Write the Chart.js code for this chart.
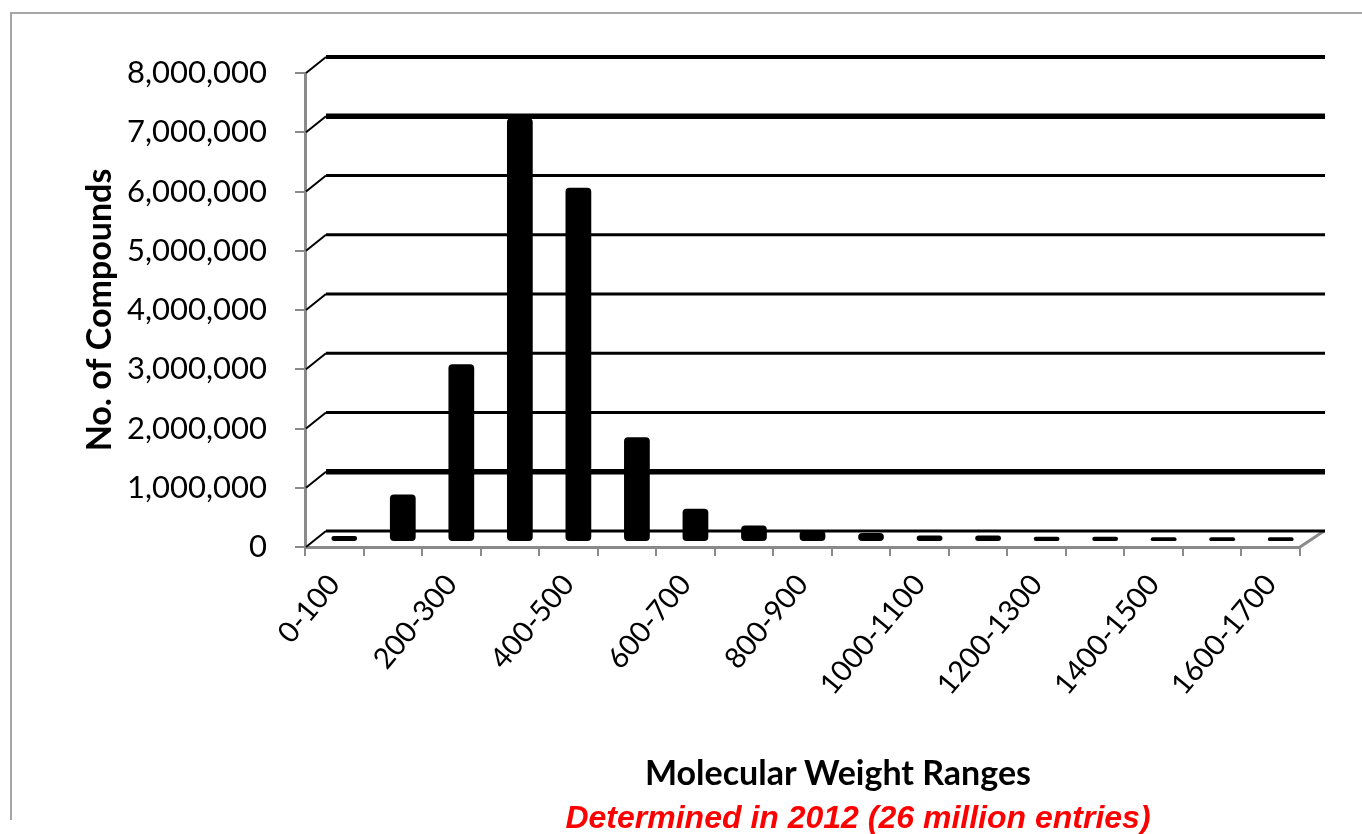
<!DOCTYPE html>
<html>
<head>
<meta charset="utf-8">
<script src="https://cdn.jsdelivr.net/npm/chart.js@4/dist/chart.umd.min.js"></script>
<style>
html, body { margin: 0; padding: 0; background: #fff; }
#wrap { position: relative; width: 1362px; height: 834px; overflow: hidden; }
#frame { position: absolute; left: 10px; top: 12px; width: 1400px; height: 806px;
         border-top: 2px solid #a6a6a6; border-left: 2px solid #a6a6a6; }
canvas { position: absolute; left: 0; top: 0; }
#xtitle { position: absolute; left: 838px; top: 771px; transform: translate(-50%, -50%);
          font: bold 34px Lato; color: #000; white-space: nowrap; }
#note { position: absolute; left: 858px; top: 817px; transform: translate(-50%, -50%);
        font: italic bold 32px "Liberation Sans"; color: #ff0000; white-space: nowrap; }
</style>
</head>
<body>
<div id="wrap">
  <div id="frame"></div>
  <canvas id="chart" width="1362" height="834"></canvas>
  <div id="xtitle">Molecular Weight Ranges</div>
  <div id="note">Determined in 2012 (26 million entries)</div>
</div>
<script>
// molecular weight bins
const categories = ["0-100", "100-200", "200-300", "300-400", "400-500", "500-600",
  "600-700", "700-800", "800-900", "900-1000", "1000-1100", "1100-1200",
  "1200-1300", "1300-1400", "1400-1500", "1500-1600", "1600-1700"];
// number of compounds per bin
const compounds = [100000, 800000, 3000000, 7150000, 5980000, 1770000,
  560000, 280000, 190000, 150000, 110000, 110000,
  90000, 90000, 80000, 80000, 80000];
const yTicks = [0, 1000000, 2000000, 3000000, 4000000, 5000000, 6000000, 7000000, 8000000];
const heavyLines = [1000000, 7000000]; // these show thicker in the original

// fake 3D depth: back wall is shifted right/up from the front axes
const DX = 21, DY = -16;

const depthPlugin = {
  id: "depth",
  beforeDatasetsDraw(chart) {
    const ctx = chart.ctx;
    const a = chart.chartArea;
    const y = chart.scales.y;
    ctx.save();
    // right edge of the floor
    const y0 = y.getPixelForValue(0);
    ctx.strokeStyle = "#8a8a8a";
    ctx.lineWidth = 3;
    ctx.beginPath();
    ctx.moveTo(a.right, y0);
    ctx.lineTo(a.right + DX + 3, y0 + DY);
    ctx.stroke();
    // gridlines on the side wall and back wall
    ctx.strokeStyle = "#000";
    y.ticks.forEach(t => {
      const py = y.getPixelForValue(t.value);
      ctx.lineWidth = 2;
      ctx.beginPath();
      ctx.moveTo(a.left + 1, py);
      ctx.lineTo(a.left + DX, py + DY);
      ctx.stroke();
      ctx.lineWidth = heavyLines.includes(t.value) ? 5.5 : (t.value === 8000000 ? 4 : 3);
      ctx.beginPath();
      ctx.moveTo(a.left + DX, py + DY);
      ctx.lineTo(a.right + DX + 4, py + DY);
      ctx.stroke();
    });
    ctx.restore();
    // bars stand in the middle of the depth
    ctx.save();
    ctx.translate(10, -5);
  },
  afterDatasetsDraw(chart) {
    chart.ctx.restore();
  }
};

new Chart(document.getElementById("chart"), {
  type: "bar",
  data: {
    labels: categories,
    datasets: [{
      data: compounds,
      backgroundColor: "#000",
      borderWidth: 0,
      borderRadius: 4,
      borderSkipped: false,
      categoryPercentage: 1,
      barPercentage: 0.44
    }]
  },
  options: {
    responsive: false,
    animation: false,
    layout: { padding: { left: 80, top: 73, right: 62, bottom: 87 } },
    plugins: { legend: { display: false }, tooltip: { enabled: false } },
    scales: {
      x: {
        type: "category",
        offset: true,
        grid: { offset: true, drawOnChartArea: false, color: "#8a8a8a", lineWidth: 2, tickLength: 9 },
        border: { color: "#8a8a8a", width: 3 },
        ticks: {
          autoSkip: false, maxRotation: 50, minRotation: 50, padding: 12,
          color: "#000", font: { family: "Lato", size: 29 },
          callback: (v, i) => (i % 2 === 0 ? categories[i] : "")
        },
        afterFit: s => { s.height = 200; }
      },
      y: {
        min: 0,
        max: 8000000,
        afterBuildTicks: s => { s.ticks = yTicks.map(v => ({ value: v })); },
        ticks: {
          padding: 28, color: "#000", font: { family: "Lato", size: 31 },
          callback: v => v.toLocaleString("en-US")
        },
        grid: { drawOnChartArea: false, color: "#8a8a8a", lineWidth: 2, tickLength: 10 },
        border: { color: "#8a8a8a", width: 3 },
        title: {
          display: true, text: "No. of Compounds", color: "#000", padding: 0,
          font: { family: "Lato", size: 34, weight: "bold" }
        },
        afterFit: s => { s.width = 225; }
      }
    }
  },
  plugins: [depthPlugin]
});
</script>
</body>
</html>
